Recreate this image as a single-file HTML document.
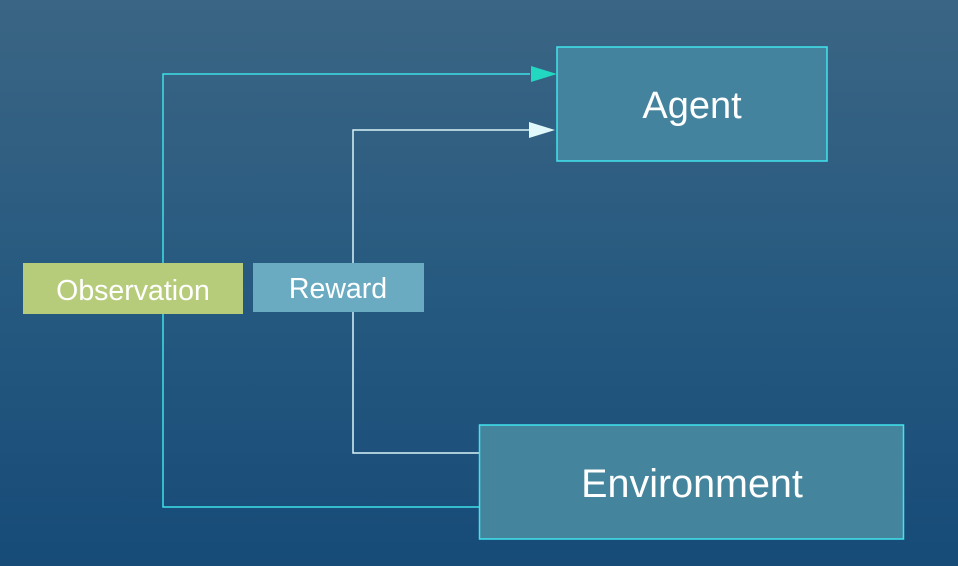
<!DOCTYPE html>
<html><head><style>
html,body{margin:0;padding:0}
body{width:958px;height:566px;overflow:hidden;background:linear-gradient(#3b6584,#275a80 50%,#174b78);font-family:"Liberation Sans",sans-serif}
</style></head><body>
<svg width="958" height="566" style="position:absolute;left:0;top:0">
<polyline points="530,74 163,74 163,507 479,507" fill="none" stroke="#3ee0e6" stroke-width="1.5"/>
<polygon points="557,74 531,66 531,82" fill="#22d8c0"/>
<polyline points="530,130 353,130 353,453 479,453" fill="none" stroke="#d8f4f8" stroke-width="1.5"/>
<polygon points="555,130 529,122 529,138" fill="#e0f8fa"/>
<rect x="557" y="47" width="270" height="114" fill="#44839d" stroke="#40e4ee" stroke-width="1.5"/>
<text x="692" y="118" font-family="Liberation Sans,sans-serif" font-size="38" fill="#fff" text-anchor="middle">Agent</text>
<rect x="479.5" y="425" width="424" height="114" fill="#44859d" stroke="#40e4ee" stroke-width="1.5"/>
<text x="692" y="497" font-family="Liberation Sans,sans-serif" font-size="39.5" fill="#fff" text-anchor="middle">Environment</text>
<rect x="23" y="263" width="220" height="51" fill="#b7cc7b"/>
<text x="133" y="300" font-family="Liberation Sans,sans-serif" font-size="28.5" fill="#fff" text-anchor="middle">Observation</text>
<rect x="253" y="263" width="171" height="49" fill="#6babc2"/>
<text x="338" y="298" font-family="Liberation Sans,sans-serif" font-size="28.5" fill="#fff" text-anchor="middle">Reward</text>
</svg>
</body></html>
